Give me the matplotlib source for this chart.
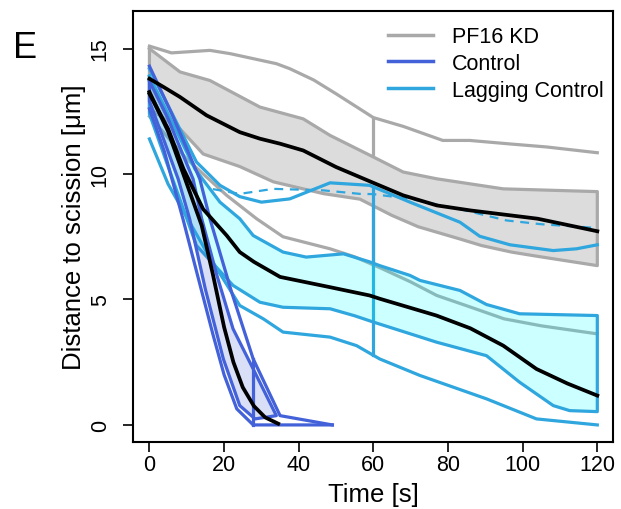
import matplotlib
matplotlib.use("Agg")
import matplotlib.pyplot as plt
import numpy as np

plt.rcParams['font.family'] = ['Liberation Sans', 'DejaVu Sans']

# ---- PF16 KD (grey) ----
pf_mean_t = [0, 4, 8.2, 15.3, 24.2, 29.6, 35, 41.2, 50, 60, 68, 77, 86, 104, 120]
pf_mean_y = [13.8, 13.45, 13.07, 12.34, 11.67, 11.41, 11.21, 10.94, 10.28, 9.65, 9.15, 8.75, 8.55, 8.22, 7.72]
pf_band_up_t = [0, 8.2, 16.2, 29.6, 41.2, 48.4, 60, 68, 77, 94.8, 120]
pf_band_up_y = [15.0, 14.07, 13.73, 12.67, 12.2, 11.54, 10.68, 10.08, 9.81, 9.41, 9.3]
pf_band_lo_t = [0, 8.2, 14.4, 24.2, 33.2, 46.6, 56.4, 65, 72, 83, 89, 97, 104, 120]
pf_band_lo_y = [12.6, 11.8, 10.8, 10.3, 9.69, 9.22, 9.0, 8.35, 7.9, 7.42, 7.15, 6.89, 6.72, 6.35]
pf_out_up_t = [0, 5.9, 16.2, 21.6, 34, 37.6, 44, 50, 60, 68, 78.6, 85.8, 96.6, 106.4, 120]
pf_out_up_y = [15.1, 14.83, 14.93, 14.8, 14.4, 14.2, 13.75, 13.2, 12.25, 11.9, 11.34, 11.34, 11.2, 11.08, 10.85]
pf_out_lo_t = [0, 10, 20.7, 28.7, 35.8, 48.4, 55, 62, 70, 77, 85, 95, 105, 120]
pf_out_lo_y = [12.3, 10.6, 9.15, 8.22, 7.5, 7.02, 6.7, 6.25, 5.7, 5.16, 4.75, 4.23, 3.95, 3.63]
pf_cut_t = 60

# ---- Control (blue) ----
ct_mean_t = [0, 5, 8.6, 11, 14, 17, 20, 22.5, 25, 28, 31, 34.5]
ct_mean_y = [13.27, 11.7, 10.2, 9.2, 7.95, 6.0, 3.9, 2.5, 1.5, 0.75, 0.3, 0.05]
ct_band_up_t = [0, 5, 11.7, 14, 18, 22.4, 27.8, 34]
ct_band_up_y = [13.7, 12.2, 9.8, 8.22, 6.0, 3.83, 2.23, 0.37]
ct_band_lo_t = [0, 4, 7.7, 10.8, 15, 19.8, 24.2, 28.3]
ct_band_lo_y = [12.9, 11.3, 9.8, 8.2, 5.4, 2.63, 0.77, 0.24]
ct_out_up_t = [0, 6, 13.5, 16.2, 22, 27.8, 35, 49]
ct_out_up_y = [14.3, 12.4, 9.8, 8.22, 5.3, 2.63, 0.37, 0.0]
ct_out_lo_t = [0, 4, 9, 13, 17.1, 20, 23.4, 27.8, 49]
ct_out_lo_y = [12.6, 10.9, 8.2, 5.9, 3.56, 2.0, 0.64, 0.0, 0.0]
ct_cut_t = 27.8

# ---- Lagging Control (light blue) ----
lg_mean_t = [0, 5, 9.1, 14.4, 20.7, 24.2, 28, 35, 48.4, 59, 61.7, 76.9, 86, 94.8, 103.7, 112, 120]
lg_mean_y = [13.2, 11.8, 10.21, 8.6, 7.55, 6.89, 6.5, 5.9, 5.49, 5.16, 5.03, 4.36, 3.85, 3.16, 2.23, 1.65, 1.17]
lg_band_up_t = [0, 5, 12.2, 18.9, 24.2, 27.8, 35.8, 42, 52, 59, 61.7, 69.8, 72.5, 83.2, 90.3, 99.2, 120]
lg_band_up_y = [13.9, 12.4, 10.2, 8.88, 8.22, 7.55, 6.89, 6.69, 6.82, 6.5, 6.35, 5.96, 5.76, 5.36, 4.8, 4.43, 4.36]
lg_band_lo_t = [0, 5, 12.6, 22.4, 29.6, 35.8, 48.4, 55, 60, 76.9, 90.3, 99.2, 108.2, 112.6, 120]
lg_band_lo_y = [12.4, 10.3, 7.15, 5.56, 4.89, 4.69, 4.63, 4.35, 4.1, 3.3, 2.76, 1.7, 0.77, 0.57, 0.53]
lg_out_up_t = [0, 12.6, 18.9, 24.2, 30, 37.6, 48.4, 59, 69.8, 83.2, 88.5, 96.6, 108.2, 114.4, 120]
lg_out_up_y = [14.2, 10.48, 9.55, 9.1, 8.88, 9.01, 9.65, 9.55, 8.88, 8.08, 7.52, 7.18, 6.95, 7.02, 7.18]
lg_out_lo_t = [0, 5, 15.3, 24.2, 30.5, 35.8, 48.4, 55.5, 61.7, 72.5, 90.3, 103.7, 120]
lg_out_lo_y = [11.4, 9.6, 6.89, 4.76, 4.23, 3.7, 3.5, 3.16, 2.63, 1.97, 1.04, 0.24, 0.0]
lg_dash_t = [17, 24.2, 33.2, 46.6, 56.4, 60, 69.8, 83.2, 95.7, 105, 120]
lg_dash_y = [9.4, 9.21, 9.41, 9.35, 9.21, 9.2, 9.01, 8.6, 8.15, 8.0, 7.85]
lg_cut_t = 60

labels = ['PF16 KD', 'Control', 'Lagging Control']
GREY = '#a9a9a9'
BLUE = '#4361d8'
LIGHT = '#2fa6de'
LW = 2.3


def band(ax, ut, uy, lt, ly, face, edge, alpha, z):
    xs = np.concatenate([ut, lt[::-1]])
    ys = np.concatenate([uy, ly[::-1]])
    ax.fill(xs, ys, facecolor=face, alpha=alpha, edgecolor='none', zorder=z)
    ax.plot(np.concatenate([ut, lt[::-1], ut[:1]]),
            np.concatenate([uy, ly[::-1], uy[:1]]),
            color=edge, lw=LW, zorder=z + 0.1, solid_joinstyle='round')


def cut(ax, t, ut, uy, lt, ly, color, z):
    y1 = np.interp(t, ut, uy)
    y2 = np.interp(t, lt, ly)
    ax.plot([t, t], [y1, y2], color=color, lw=LW, zorder=z)


fig = plt.figure(figsize=(6.21, 5.10), dpi=100)
ax = fig.add_axes([0.2142, 0.1314, 0.7729, 0.8451])

# PF16 KD
ax.plot(pf_out_up_t, pf_out_up_y, color=GREY, lw=LW, zorder=1)
ax.plot(pf_out_lo_t, pf_out_lo_y, color=GREY, lw=LW, zorder=1)
cut(ax, pf_cut_t, pf_out_up_t, pf_out_up_y, pf_out_lo_t, pf_out_lo_y, GREY, 1)
band(ax, np.array(pf_band_up_t), np.array(pf_band_up_y),
     np.array(pf_band_lo_t), np.array(pf_band_lo_y), '#dcdcdc', GREY, 1.0, 2)

# Lagging Control
ax.plot(lg_out_up_t, lg_out_up_y, color=LIGHT, lw=LW, zorder=3)
ax.plot(lg_out_lo_t, lg_out_lo_y, color=LIGHT, lw=LW, zorder=3)
ax.plot(lg_dash_t, lg_dash_y, color=LIGHT, lw=1.6, ls=(0, (4, 3)), zorder=3)
cut(ax, lg_cut_t, lg_out_up_t, lg_out_up_y, lg_out_lo_t, lg_out_lo_y, LIGHT, 3)
band(ax, np.array(lg_band_up_t), np.array(lg_band_up_y),
     np.array(lg_band_lo_t), np.array(lg_band_lo_y), '#00ffff', LIGHT, 0.2, 4)

# Control
ax.plot(ct_out_up_t, ct_out_up_y, color=BLUE, lw=LW, zorder=5)
ax.plot(ct_out_lo_t, ct_out_lo_y, color=BLUE, lw=LW, zorder=5)
cut(ax, ct_cut_t, ct_out_up_t, ct_out_up_y, ct_out_lo_t, ct_out_lo_y, BLUE, 5)
band(ax, np.array(ct_band_up_t), np.array(ct_band_up_y),
     np.array(ct_band_lo_t), np.array(ct_band_lo_y), BLUE, BLUE, 0.2, 6)

# means
ax.plot(pf_mean_t, pf_mean_y, color='black', lw=2.7, zorder=8)
ax.plot(lg_mean_t, lg_mean_y, color='black', lw=2.7, zorder=8)
ax.plot(ct_mean_t, ct_mean_y, color='black', lw=2.7, zorder=8)

ax.set_xlim(-4.4, 124.2)
ax.set_ylim(-0.68, 16.5)
ax.set_xticks([0, 20, 40, 60, 80, 100, 120])
ax.set_yticks([0, 5, 10, 15])
ax.tick_params(axis='both', direction='out', length=7, width=1.2, labelsize=15.5, pad=2)
ax.tick_params(axis='y', labelrotation=90, pad=9)
for lab in ax.get_yticklabels():
    lab.set_verticalalignment('center')
for s in ax.spines.values():
    s.set_linewidth(1.5)
ax.set_xlabel('Time [s]', fontsize=18.5, labelpad=5)
ax.set_ylabel('Distance to scission [μm]', fontsize=18.5, labelpad=3)

handles = [plt.Line2D([], [], color=c, lw=2.5) for c in (GREY, BLUE, LIGHT)]
ax.legend(handles, labels, loc='upper left', bbox_to_anchor=(0.5, 1.0),
          frameon=False, fontsize=15.5, handlelength=2.1, handletextpad=0.85,
          labelspacing=0.27, borderaxespad=0.3)

fig.text(0.021, 0.886, 'E', fontsize=26, va='baseline')

fig.savefig('out.png', dpi=100)
